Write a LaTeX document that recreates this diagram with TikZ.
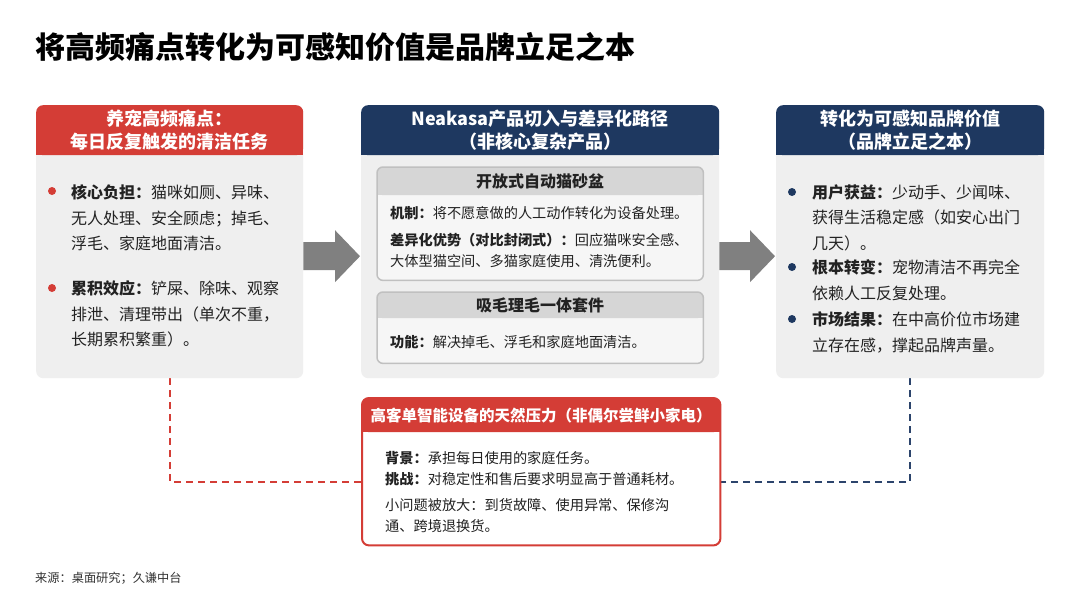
\documentclass[tikz,border=0pt]{standalone}
\usepackage{fontspec}
\setmainfont{Noto Sans CJK SC}
\newfontfamily\titlefont{Noto Sans CJK SC Black}
\usetikzlibrary{calc}
\definecolor{redc}{RGB}{212,61,54}
\definecolor{navyc}{RGB}{30,56,96}
\definecolor{bodyg}{RGB}{239,239,239}
\definecolor{subhd}{RGB}{214,214,214}
\definecolor{subbd}{RGB}{192,192,192}
\definecolor{subbg}{RGB}{246,246,246}
\definecolor{arrg}{RGB}{128,128,128}
\definecolor{txt}{RGB}{34,34,34}
\definecolor{dashnavy}{RGB}{44,68,108}
\definecolor{srcc}{RGB}{51,51,51}
\tikzset{
  panel/.style={fill=bodyg, rounded corners=7pt, inner sep=0pt, anchor=north west},
  hdr/.style={fill=#1, rounded corners=7pt, inner sep=0pt, anchor=north west, text=white,
    font=\fontsize{18}{23}\selectfont\bfseries, align=center},
  subbox/.style={fill=subbg, rounded corners=6pt, inner sep=0pt, anchor=north west},
  subhdr/.style={fill=subhd, rounded corners=6pt, inner sep=0pt, anchor=north west, text=txt,
    font=\fontsize{16}{20}\selectfont\bfseries},
  bodytxt/.style={inner sep=0pt, anchor=north west, align=left, text=txt},
  bigtxt/.style={bodytxt, font=\fontsize{16}{25.5}\selectfont},
  smalltxt/.style={bodytxt, font=\fontsize{14.2}{21}\selectfont},
  reddash/.style={draw=redc, line width=2.2pt, dash pattern=on 7pt off 5pt},
  navydash/.style={draw=dashnavy, line width=2.2pt, dash pattern=on 7pt off 5pt},
  blockarrow/.style={fill=arrg},
}
\begin{document}
\begin{tikzpicture}[x=1pt,y=-1pt]
\useasboundingbox (0,0) rectangle (1080,602);
\fill[white] (0,0) rectangle (1080,602);

% title
\node[anchor=west, inner sep=0pt, font=\fontsize{30}{36}\selectfont\titlefont, text=black] (title) at (35,47) {将高频痛点转化为可感知价值是品牌立足之本};

% dashed connectors (drawn first, under boxes)
\coordinate (ld) at (170,378);
\coordinate (lj) at (362,482);
\coordinate (rd) at (910,378);
\coordinate (rj) at (720,482);
\draw[reddash] (ld) |- (lj);
\draw[navydash] (rd) |- (rj);

% ---------- left panel ----------
\node[panel, minimum width=267pt, minimum height=273pt] (L) at (36,105) {};
\fill[redc] (36,143) rectangle (303,155);
\node[hdr=redc, minimum width=267pt, minimum height=50pt] (Lh) at (36,105) {养宠高频痛点：\\每日反复触发的清洁任务};
\fill[redc] (52,191) circle (4pt);
\node[bigtxt] (L1) at (71,184.5) {\textbf{核心负担：}猫咪如厕、异味、\\无人处理、安全顾虑；掉毛、\\浮毛、家庭地面清洁。};
\fill[redc] (52,288) circle (4pt);
\node[bigtxt] (L2) at (71,280.5) {\textbf{累积效应：}铲屎、除味、观察\\排泄、清理带出（单次不重，\\长期累积繁重）。};

% ---------- middle panel ----------
\node[panel, minimum width=358pt, minimum height=273pt] (M) at (361,105) {};
\fill[navyc] (361,143) rectangle (719,155);
\node[hdr=navyc, minimum width=358pt, minimum height=50pt] (Mh) at (361,105) {Neakasa产品切入与差异化路径\\（非核心复杂产品）};

\node[subbox, minimum width=326pt, minimum height=113pt] (S1) at (377,167) {};
\fill[subhd] (377,185) rectangle (703,195);
\node[subhdr, minimum width=326pt, minimum height=28pt] (S1h) at (377,167) {开放式自动猫砂盆};
\draw[subbd, line width=1.5pt, rounded corners=6pt] (S1.north west) rectangle (S1.south east);
\node[smalltxt] (S1a) at (390,206.3) {\textbf{机制：}将不愿意做的人工动作转化为设备处理。};
\node[smalltxt] (S1b) at (390,233.3) {\textbf{差异化优势（对比封闭式）：}回应猫咪安全感、\\大体型猫空间、多猫家庭使用、清洗便利。};

\node[subbox, minimum width=326pt, minimum height=71pt] (S2) at (377,292) {};
\fill[subhd] (377,308) rectangle (703,318);
\node[subhdr, minimum width=326pt, minimum height=26pt] (S2h) at (377,292) {吸毛理毛一体套件};
\draw[subbd, line width=1.5pt, rounded corners=6pt] (S2.north west) rectangle (S2.south east);
\node[smalltxt] (S2a) at (390,335.3) {\textbf{功能：}解决掉毛、浮毛和家庭地面清洁。};

% ---------- right panel ----------
\node[panel, minimum width=268pt, minimum height=273pt] (R) at (776,105) {};
\fill[navyc] (776,143) rectangle (1044,155);
\node[hdr=navyc, minimum width=268pt, minimum height=50pt] (Rh) at (776,105) {转化为可感知品牌价值\\（品牌立足之本）};
\fill[navyc] (792,192) circle (4pt);
\node[bigtxt] (R1) at (812,184.5) {\textbf{用户获益：}少动手、少闻味、\\获得生活稳定感（如安心出门\\几天）。};
\fill[navyc] (792,267) circle (4pt);
\node[bigtxt] (R2) at (812,259.5) {\textbf{根本转变：}宠物清洁不再完全\\依赖人工反复处理。};
\fill[navyc] (792,319) circle (4pt);
\node[bigtxt] (R3) at (812,311.5) {\textbf{市场结果：}在中高价位市场建\\立存在感，撑起品牌声量。};

% ---------- block arrows ----------
\coordinate (a1s) at ($(L.east)+(0,14.5)$);
\coordinate (a1e) at ($(M.west)+(-1,14.5)$);
\fill[blockarrow] ($(a1s)+(0,-14)$) -- ($(a1e)+(-25,-14)$) -- ($(a1e)+(-25,-26)$) -- (a1e)
  -- ($(a1e)+(-25,26)$) -- ($(a1e)+(-25,14)$) -- ($(a1s)+(0,14)$) -- cycle;
\coordinate (a2s) at ($(M.east)+(0,14.5)$);
\coordinate (a2e) at ($(R.west)+(-1,14.5)$);
\fill[blockarrow] ($(a2s)+(0,-14)$) -- ($(a2e)+(-25,-14)$) -- ($(a2e)+(-25,-26)$) -- (a2e)
  -- ($(a2e)+(-25,26)$) -- ($(a2e)+(-25,14)$) -- ($(a2s)+(0,14)$) -- cycle;

% ---------- bottom box ----------
\node[fill=white, rounded corners=7pt, inner sep=0pt, anchor=north west, minimum width=358pt, minimum height=147pt] (B) at (362,398) {};
\fill[redc] (362,422) rectangle (720,432);
\node[hdr=redc, minimum width=358pt, minimum height=34pt, font=\fontsize{15.5}{18}\selectfont\bfseries] (Bh) at (362,398) {高客单智能设备的天然压力（非偶尔尝鲜小家电）};
\draw[redc, line width=2pt, rounded corners=7pt] (B.north west) rectangle (B.south east);
\node[smalltxt] (B1) at (385,451.3) {\textbf{背景：}承担每日使用的家庭任务。};
\node[smalltxt] (B2) at (385,471.8) {\textbf{挑战：}对稳定性和售后要求明显高于普通耗材。};
\node[smalltxt, font=\fontsize{14.2}{20.5}\selectfont] (B3) at (385,498.3) {小问题被放大：到货故障、使用异常、保修沟\\通、跨境退换货。};

% source
\node[anchor=west, inner sep=0pt, font=\fontsize{12.2}{14}\selectfont, text=srcc] (src) at (35,578) {来源：桌面研究；久谦中台};
\end{tikzpicture}
\end{document}
